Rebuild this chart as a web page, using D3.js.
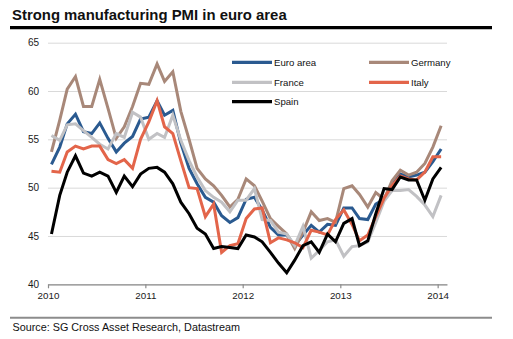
<!DOCTYPE html>
<html>
<head>
<meta charset="utf-8">
<script src="https://d3js.org/d3.v7.min.js"></script>
<style>
body { margin: 0; background: #fff; }
svg { display: block; font-family: "Liberation Sans", Arial, Helvetica, sans-serif; }
.line { fill: none; stroke-width: 3px; stroke-linejoin: miter; }
</style>
<title>Strong manufacturing PMI in euro area</title>
</head>
<body>
<script>
// monthly PMI, Jan 2010 - Jan 2014
var euroArea = [52.4,54.2,56.6,57.6,55.8,55.6,56.7,55.1,53.7,54.6,55.3,57.1,
  57.3,59.0,57.5,58.0,54.6,52.0,50.4,49.0,48.5,47.1,46.4,46.9,
  48.8,49.0,47.7,45.9,45.1,45.1,44.0,45.1,46.1,45.4,46.2,46.1,
  47.9,47.9,46.8,46.7,48.3,48.8,50.3,51.4,51.1,51.3,51.6,52.7,54.0];

var germany = [53.7,57.0,60.2,61.5,58.4,58.4,61.2,58.2,55.1,56.3,58.4,60.8,
  60.7,62.8,61.0,62.0,57.9,55.0,52.0,50.9,50.2,49.2,48.0,48.8,
  50.9,50.2,48.6,46.8,46.0,45.2,43.7,45.4,47.5,46.6,46.8,46.4,
  49.9,50.2,49.3,48.0,49.5,48.8,50.7,51.8,51.3,51.6,52.5,54.2,56.4];

var france = [55.4,54.9,56.5,56.6,55.9,55.2,54.5,54.0,55.6,55.2,57.8,57.3,
  55.0,55.6,55.2,57.5,54.9,52.8,51.1,49.7,49.0,48.5,47.5,48.7,
  48.7,49.9,46.7,46.6,45.4,45.2,44.0,46.0,42.7,43.5,44.4,44.6,
  42.9,43.9,44.0,44.4,46.4,48.6,49.7,49.7,49.8,49.1,48.2,47.0,49.2];

var italy = [51.7,51.6,53.7,54.3,54.0,54.3,54.3,52.9,52.5,52.9,52.0,55.0,
  56.8,59.0,56.3,55.6,52.8,50.0,49.9,47.0,48.3,43.3,44.0,44.2,
  46.8,47.8,47.9,44.3,44.8,44.6,44.3,43.8,45.6,45.4,45.1,46.7,
  47.7,46.2,44.5,45.1,47.0,48.9,50.2,51.2,50.9,50.8,51.6,53.2,53.2];

var spain = [45.2,49.2,51.6,53.3,51.5,51.2,51.6,51.2,49.5,51.2,50.1,51.4,
  52.0,52.1,51.6,50.4,48.5,47.3,45.8,45.2,43.7,43.9,43.8,43.7,
  45.1,44.9,44.4,43.3,42.2,41.2,42.5,44.0,44.4,43.3,45.2,44.4,
  46.3,46.8,44.0,44.5,47.3,49.9,49.8,51.1,50.8,50.8,48.7,50.9,52.1];

var seriesNames = ["Euro area", "Germany", "France", "Italy", "Spain"];
var seriesValues = [euroArea, germany, france, italy, spain];
var seriesColors = ["#2a5a90", "#a88879", "#c1c1c4", "#e3654a", "#000000"];

var yTicks = [40, 45, 50, 55, 60, 65];
var xTickYears = [2010, 2011, 2012, 2013, 2014];

var titleText = "Strong manufacturing PMI in euro area";
var sourceText = "Source: SG Cross Asset Research, Datastream";

var width = 513, height = 339;

var svg = d3.select("body").append("svg")
    .attr("width", width)
    .attr("height", height);

svg.append("text")
    .attr("x", 12)
    .attr("y", 20)
    .style("font-size", "14.9px")
    .style("font-weight", "bold")
    .style("fill", "#111")
    .text(titleText);

svg.append("line")
    .attr("x1", 10).attr("x2", 492)
    .attr("y1", 27.7).attr("y2", 27.7)
    .style("stroke", "#000")
    .style("stroke-width", 3.3);

var x = d3.scaleTime()
    .domain([new Date(2010, 0, 1), new Date(2014, 1, 5)])
    .range([48, 447]);

var y = d3.scaleLinear()
    .domain([40, 65])
    .range([284.3, 42.7]);

// grid + y labels
var yAxis = svg.append("g")
    .attr("transform", "translate(48,0)")
    .call(d3.axisLeft(y).tickValues(yTicks).tickSize(-(447 - 48)).tickPadding(9));
yAxis.select(".domain").remove();
yAxis.selectAll(".tick line").style("stroke", "#d9d9d9").style("stroke-width", 1);
yAxis.selectAll(".tick text")
    .style("font-size", "10px")
    .style("fill", "#1a1a1a")
    .style("font-family", "\"Liberation Sans\", Arial, sans-serif");

// x axis
var xAxis = svg.append("g")
    .attr("transform", "translate(0," + y(40) + ")")
    .call(d3.axisBottom(x)
      .tickValues(xTickYears.map(function(d) { return new Date(d, 0, 1); }))
      .tickFormat(d3.timeFormat("%Y"))
      .tickSize(4)
      .tickSizeOuter(0)
      .tickPadding(4));
xAxis.select(".domain").style("stroke", "#8c8c8c").style("stroke-width", 1.2);
xAxis.selectAll(".tick line").style("stroke", "#8c8c8c").style("stroke-width", 1.2);
xAxis.selectAll(".tick text")
    .style("font-size", "9.8px")
    .style("fill", "#1a1a1a")
    .style("font-family", "\"Liberation Sans\", Arial, sans-serif");

var line = d3.line()
    .x(function(d, i) { return x(new Date(2010, i, 14)); })
    .y(function(d) { return y(d); });

svg.selectAll(".line")
    .data(seriesValues)
  .enter().append("path")
    .attr("class", "line")
    .style("stroke", function(d, i) { return seriesColors[i]; })
    .attr("d", line);

// legend
var legendPos = [[232, 62.3], [369, 62.3], [232, 82.3], [369, 82.3], [232, 101.7]];

var legend = svg.selectAll(".legend")
    .data(seriesNames)
  .enter().append("g")
    .attr("class", "legend")
    .attr("transform", function(d, i) { return "translate(" + legendPos[i] + ")"; });

legend.append("line")
    .attr("x1", 0).attr("x2", 40)
    .style("stroke", function(d, i) { return seriesColors[i]; })
    .style("stroke-width", 3.3);

legend.append("text")
    .attr("x", 42)
    .attr("dy", "0.35em")
    .style("font-size", "9.6px")
    .style("fill", "#111")
    .text(function(d) { return d; });

// footer
svg.append("line")
    .attr("x1", 10).attr("x2", 492)
    .attr("y1", 317.7).attr("y2", 317.7)
    .style("stroke", "#8c8c8c")
    .style("stroke-width", 2);

svg.append("text")
    .attr("x", 12.5)
    .attr("y", 330.5)
    .style("font-size", "10.8px")
    .style("fill", "#111")
    .text(sourceText);
</script>
</body>
</html>
